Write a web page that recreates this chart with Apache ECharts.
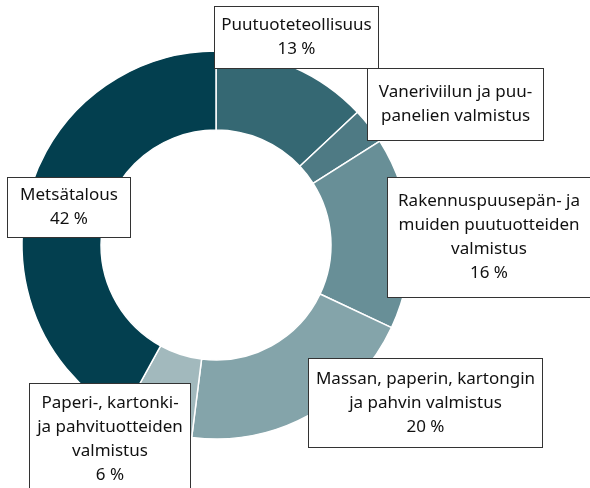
<!DOCTYPE html>
<html>
<head>
<meta charset="utf-8">
<script src="https://cdn.jsdelivr.net/npm/echarts@6/dist/echarts.min.js"></script>
<style>
  html, body { margin: 0; padding: 0; background: #fff; }
  #main { width: 590px; height: 488px; }
</style>
</head>
<body>
<div id="main"></div>
<script>
var categories = [
    'Puutuoteteollisuus',
    'Vaneriviilun ja puu-\npanelien valmistus',
    'Rakennuspuusepän- ja\nmuiden puutuotteiden\nvalmistus',
    'Massan, paperin, kartongin\nja pahvin valmistus',
    'Paperi-, kartonki-\nja pahvituotteiden\nvalmistus',
    'Metsätalous'
];
var shares = [13, 3, 16, 20, 6, 42];
var showShare = [true, false, true, true, true, true];
var colors = ['#356873', '#4e7a84', '#688f97', '#84a4aa', '#a2b9bd', '#033f4f'];
// label boxes: centre x, centre y, box width, vertical padding
var labelBoxes = [
    [296.5, 37.5, 163, 6.5],
    [455.5, 104.5, 175, 11.5],
    [489, 237.5, 202, 11.5],
    [425.5, 403, 233, 8],
    [110, 439, 160, 7],
    [69, 207.5, 122, 5.5]
];

var pieData = [];
for (var i = 0; i < categories.length; i++) {
    pieData.push({
        name: categories[i],
        value: shares[i],
        itemStyle: { color: colors[i] },
        label: {
            width: labelBoxes[i][2] - 4,
            padding: [labelBoxes[i][3], 2, labelBoxes[i][3], 2]
        }
    });
}

var myChart = echarts.init(document.getElementById('main'));
var option = {
    animation: false,
    series: [
        {
            type: 'pie',
            center: [216, 245],
            radius: [115, 194],
            startAngle: 90,
            clockwise: true,
            itemStyle: {
                borderColor: '#fff',
                borderWidth: 1.5
            },
            label: {
                show: true,
                position: 'outside',
                formatter: function (p) {
                    return showShare[p.dataIndex] ? p.name + '\n' + p.value + ' %' : p.name;
                },
                fontFamily: 'Noto Sans',
                fontSize: 17,
                lineHeight: 24,
                color: '#111',
                align: 'center',
                backgroundColor: '#fff',
                borderColor: '#333',
                borderWidth: 1
            },
            labelLine: { show: false },
            labelLayout: function (params) {
                var b = labelBoxes[params.dataIndex];
                return { x: b[0], y: b[1], align: 'center', verticalAlign: 'middle' };
            },
            data: pieData
        }
    ]
};
myChart.setOption(option);
</script>
</body>
</html>
